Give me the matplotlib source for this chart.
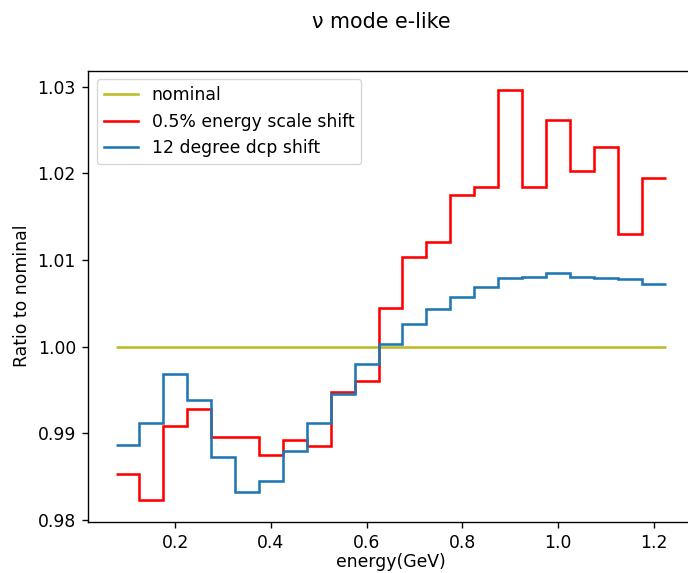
import matplotlib
matplotlib.use("Agg")
import matplotlib.pyplot as plt
import numpy as np

# bin edges (GeV)
edges = np.round(np.arange(0.075, 1.2251, 0.05), 3)

nominal = [1.0] * 23

energy_shift = [0.9853, 0.9823, 0.9909, 0.9928, 0.9896, 0.9896, 0.9875, 0.9892,
                0.9885, 0.9948, 0.9960, 1.0045, 1.0103, 1.0121, 1.0175, 1.0184,
                1.0296, 1.0184, 1.0262, 1.0203, 1.0230, 1.0130, 1.0195]

dcp_shift = [0.9887, 0.9912, 0.9969, 0.9939, 0.9873, 0.9832, 0.9845, 0.9880,
             0.9912, 0.9946, 0.9980, 1.0003, 1.0026, 1.0044, 1.0057, 1.0069,
             1.0079, 1.0081, 1.0085, 1.0081, 1.0079, 1.0078, 1.0072]

# original looks like a default figure scaled up ~1.24x
s = 1.24
plt.rcParams['font.size'] = 10 * s
for a in ('xtick', 'ytick'):
    plt.rcParams[a + '.major.size'] = 3.5 * s
    plt.rcParams[a + '.major.pad'] = 3.5 * s
    plt.rcParams[a + '.major.width'] = 0.8 * s
plt.rcParams['axes.linewidth'] = 0.8 * s
plt.rcParams['axes.labelpad'] = 4.0 * s

fig = plt.figure(figsize=(6.88, 5.73), dpi=100)
# axes runs past the right edge, like the cropped original
ax = fig.add_axes([88 / 688, (573 - 521.5) / 573, 605 / 688, 450.8 / 573])

lw = 1.5 * s
ax.stairs(nominal, edges, baseline=None, color='#bcbd22', linewidth=lw, label='nominal')
ax.stairs(energy_shift, edges, baseline=None, color='red', linewidth=lw,
          label='0.5% energy scale shift')
ax.stairs(dcp_shift, edges, baseline=None, color='#1f77b4', linewidth=lw,
          label='12 degree dcp shift')

ax.set_xlim(0.0175, 1.2825)
ax.set_ylim(0.97983, 1.03185)
ax.set_yticks([0.98, 0.99, 1.00, 1.01, 1.02, 1.03])
ax.set_xticks([0.2, 0.4, 0.6, 0.8, 1.0, 1.2])
ax.set_xlabel('energy(GeV)', labelpad=1)
ax.set_ylabel('Ratio to nominal')
ax.legend(loc='upper left')

fig.text(381 / 688, 1 - 22 / 573, 'ν mode e-like', ha='center', va='center', fontsize=12 * s)

fig.savefig('out.png', dpi=100)
plt.close()
